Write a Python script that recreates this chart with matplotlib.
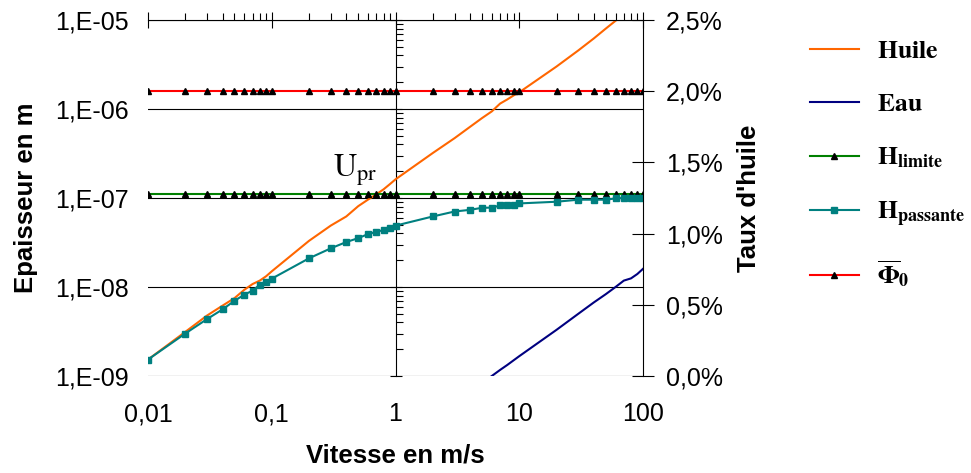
import numpy as np
import matplotlib.pyplot as plt
from matplotlib.ticker import FuncFormatter, LogLocator, NullFormatter, MultipleLocator

plt.rcParams['font.family'] = ['Liberation Sans', 'DejaVu Sans']
plt.rcParams['mathtext.fontset'] = 'stix'

# vitesses (m/s) : 1..9 x 10^k de 0,01 a 100
vitesse = [0.01, 0.02, 0.03, 0.04, 0.05, 0.06, 0.07, 0.08, 0.09,
           0.1, 0.2, 0.3, 0.4, 0.5, 0.6, 0.7, 0.8, 0.9,
           1, 2, 3, 4, 5, 6, 7, 8, 9,
           10, 20, 30, 40, 50, 60, 70, 80, 90, 100]

# epaisseurs (m)
huile = [1.53e-9, 3.13e-9, 4.78e-9, 6.17e-9, 7.5e-9, 9.3e-9, 1.08e-8, 1.18e-8, 1.32e-8,
         1.5e-8, 3.3e-8, 4.9e-8, 6.2e-8, 8.1e-8, 9.6e-8, 1.1e-7, 1.25e-7, 1.43e-7,
         1.62e-7, 3.2e-7, 4.7e-7, 6.3e-7, 7.9e-7, 9.4e-7, 1.15e-6, 1.28e-6, 1.42e-6,
         1.54e-6, 3.0e-6, 4.55e-6, 6.2e-6, 8.0e-6, 9.8e-6, 1.15e-5, 1.3e-5, 1.45e-5, 1.6e-5]

vitesse_eau = [5, 6, 7, 8, 9, 10, 20, 30, 40, 50, 60, 70, 80, 90, 100]
eau = [8.3e-10, 1.0e-9, 1.17e-9, 1.33e-9, 1.5e-9, 1.67e-9, 3.3e-9, 5.0e-9, 6.7e-9,
       8.3e-9, 1.0e-8, 1.18e-8, 1.25e-8, 1.4e-8, 1.6e-8]

h_limite = [1.12e-7] * len(vitesse)

h_passante = [1.53e-9, 3.0e-9, 4.36e-9, 5.6e-9, 7.0e-9, 8.2e-9, 9.1e-9, 1.06e-8, 1.13e-8,
              1.24e-8, 2.1e-8, 2.72e-8, 3.2e-8, 3.54e-8, 3.93e-8, 4.17e-8, 4.36e-8, 4.57e-8,
              4.89e-8, 6.2e-8, 7.05e-8, 7.36e-8, 7.76e-8, 7.8e-8, 8.24e-8, 8.24e-8, 8.24e-8,
              8.69e-8, 9.08e-8, 9.57e-8, 9.57e-8, 9.57e-8, 9.9e-8, 1.0e-7, 1.0e-7, 1.0e-7, 1.0e-7]

# taux d'huile (%)
phi0 = [2.0] * len(vitesse)

fig = plt.figure(figsize=(9.71, 4.73), dpi=100)
ax = fig.add_axes([148 / 971, 1 - 376 / 473, 495 / 971, 356 / 473])
ax.set_xscale('log')
ax.set_yscale('log')
ax.set_xlim(0.01, 100)
ax.set_ylim(1e-9, 1e-5)

l_huile, = ax.plot(vitesse, huile, color='#FF6600', lw=1.5)
l_eau, = ax.plot(vitesse_eau, eau, color='#000080', lw=1.5)
l_lim, = ax.plot(vitesse, h_limite, color='#008000', lw=1.5,
                 marker='^', mfc='black', mec='black', ms=5)
l_pas, = ax.plot(vitesse, h_passante, color='#008080', lw=1.5,
                 marker='s', mfc='#008080', mec='#008080', ms=4)

ax.text(0.31, 1.75e-7, r'$\mathrm{U}_{\mathrm{pr}}$', fontsize=23)

ax2 = ax.twinx()
ax2.set_ylim(0, 2.5)
l_phi, = ax2.plot(vitesse, phi0, color='#FF0000', lw=1.5,
                  marker='^', mfc='black', mec='black', ms=5)

# axes / grille
ax.grid(axis='y', which='major', color='black', lw=0.8)
for s in ['left', 'bottom', 'right']:
    ax.spines[s].set_visible(False)
ax.spines['top'].set_linewidth(0.8)
for s in ['left', 'bottom', 'top']:
    ax2.spines[s].set_visible(False)
ax2.spines['right'].set_linewidth(0.8)

ax.tick_params(axis='x', which='both', top=True, bottom=False, labeltop=False,
               labelbottom=True, width=0.8, labelsize=18)
ax.tick_params(axis='x', which='major', direction='inout', length=12, pad=13)
ax.tick_params(axis='x', which='minor', direction='out', length=5)
ax.xaxis.set_major_formatter(FuncFormatter(lambda v, p: f'{v:g}'.replace('.', ',')))
ax.xaxis.set_minor_formatter(NullFormatter())

ax.tick_params(axis='y', which='both', left=False, right=False, length=0, pad=14, labelsize=18)
ax.yaxis.set_major_formatter(FuncFormatter(lambda v, p: '1,E' + f'{int(round(np.log10(v))):03d}'))
ax.yaxis.set_minor_formatter(NullFormatter())

ax2.yaxis.set_major_locator(MultipleLocator(0.5))
ax2.yaxis.set_major_formatter(FuncFormatter(lambda v, p: f'{v:.1f}%'.replace('.', ',')))
ax2.tick_params(axis='y', direction='inout', length=16, width=0.8, pad=8.6, labelsize=18)

# axe vertical qui croise en x = 1
sec = ax.secondary_yaxis(0.5)
sec.yaxis.set_major_locator(LogLocator(base=10))
sec.yaxis.set_minor_locator(LogLocator(base=10, subs=np.arange(2, 10)))
sec.tick_params(which='major', direction='inout', length=9, width=0.8,
                labelright=False, labelleft=False)
sec.tick_params(which='minor', direction='out', length=5, width=0.8)
for s in sec.spines.values():
    s.set_linewidth(0.8)

ax.set_xlabel('Vitesse en m/s', fontsize=18.5, fontweight='bold', labelpad=12)
ax.set_ylabel('Epaisseur en m', fontsize=18.5, fontweight='bold', labelpad=12)
ax2.set_ylabel("Taux d'huile", fontsize=18.5, fontweight='bold', labelpad=10)

labels = [r'$\mathbf{Huile}$', r'$\mathbf{Eau}$', r'$\mathbf{H}_{\mathbf{limite}}$',
          r'$\mathbf{H}_{\mathbf{passante}}$', r'$\overline{\mathbf{\Phi}}_{\mathbf{0}}$']
fig.legend([l_huile, l_eau, l_lim, l_pas, l_phi], labels, loc='center left',
           bbox_to_anchor=(810 / 971, 1 - 164 / 473), frameon=False, fontsize=18.5,
           handlelength=1.9, handletextpad=0.7, labelspacing=1.15, borderpad=0,
           borderaxespad=0, numpoints=1)

fig.savefig('out.png', dpi=100)
